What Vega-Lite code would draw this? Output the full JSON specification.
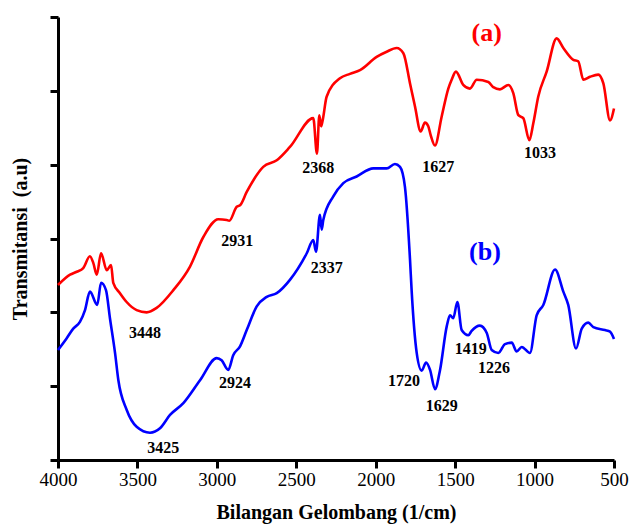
{
  "$schema": "https://vega.github.io/schema/vega-lite/v6.json",
  "autosize": {"type": "none"},
  "width": 556,
  "height": 443,
  "padding": {"left": 58, "top": 17, "right": 15, "bottom": 67},
  "background": "white",
  "config": {
    "view": {"stroke": null},
    "font": "Liberation Serif",
    "axis": {"labelFont": "Liberation Serif", "titleFont": "Liberation Serif"},
    "text": {"font": "Liberation Serif"}
  },
  "datasets": {
    "spectra": [
      {"series": "a", "wn": 4000, "t": 2.37},
      {"series": "a", "wn": 3924, "t": 2.51},
      {"series": "a", "wn": 3882, "t": 2.55},
      {"series": "a", "wn": 3841, "t": 2.6},
      {"series": "a", "wn": 3799, "t": 2.76},
      {"series": "a", "wn": 3778, "t": 2.67},
      {"series": "a", "wn": 3756, "t": 2.51},
      {"series": "a", "wn": 3729, "t": 2.8},
      {"series": "a", "wn": 3693, "t": 2.57},
      {"series": "a", "wn": 3666, "t": 2.64},
      {"series": "a", "wn": 3652, "t": 2.4},
      {"series": "a", "wn": 3610, "t": 2.26},
      {"series": "a", "wn": 3568, "t": 2.14},
      {"series": "a", "wn": 3505, "t": 2.03},
      {"series": "a", "wn": 3442, "t": 2.0},
      {"series": "a", "wn": 3379, "t": 2.06},
      {"series": "a", "wn": 3274, "t": 2.3},
      {"series": "a", "wn": 3169, "t": 2.62},
      {"series": "a", "wn": 3085, "t": 3.02},
      {"series": "a", "wn": 2991, "t": 3.26},
      {"series": "a", "wn": 2938, "t": 3.25},
      {"series": "a", "wn": 2922, "t": 3.24},
      {"series": "a", "wn": 2875, "t": 3.43},
      {"series": "a", "wn": 2854, "t": 3.45},
      {"series": "a", "wn": 2812, "t": 3.63},
      {"series": "a", "wn": 2708, "t": 3.97},
      {"series": "a", "wn": 2623, "t": 4.06},
      {"series": "a", "wn": 2540, "t": 4.24},
      {"series": "a", "wn": 2393, "t": 4.63},
      {"series": "a", "wn": 2370, "t": 4.15},
      {"series": "a", "wn": 2355, "t": 4.67},
      {"series": "a", "wn": 2344, "t": 4.52},
      {"series": "a", "wn": 2334, "t": 4.6},
      {"series": "a", "wn": 2309, "t": 4.92},
      {"series": "a", "wn": 2225, "t": 5.17},
      {"series": "a", "wn": 2162, "t": 5.23},
      {"series": "a", "wn": 2099, "t": 5.28},
      {"series": "a", "wn": 1994, "t": 5.46},
      {"series": "a", "wn": 1931, "t": 5.53},
      {"series": "a", "wn": 1868, "t": 5.58},
      {"series": "a", "wn": 1826, "t": 5.51},
      {"series": "a", "wn": 1784, "t": 5.1},
      {"series": "a", "wn": 1753, "t": 4.79},
      {"series": "a", "wn": 1717, "t": 4.45},
      {"series": "a", "wn": 1690, "t": 4.57},
      {"series": "a", "wn": 1669, "t": 4.52},
      {"series": "a", "wn": 1654, "t": 4.4},
      {"series": "a", "wn": 1627, "t": 4.26},
      {"series": "a", "wn": 1585, "t": 4.65},
      {"series": "a", "wn": 1543, "t": 5.03},
      {"series": "a", "wn": 1522, "t": 5.15},
      {"series": "a", "wn": 1495, "t": 5.26},
      {"series": "a", "wn": 1449, "t": 5.08},
      {"series": "a", "wn": 1407, "t": 5.03},
      {"series": "a", "wn": 1364, "t": 5.15},
      {"series": "a", "wn": 1291, "t": 5.12},
      {"series": "a", "wn": 1260, "t": 5.05},
      {"series": "a", "wn": 1218, "t": 5.02},
      {"series": "a", "wn": 1165, "t": 5.08},
      {"series": "a", "wn": 1134, "t": 4.97},
      {"series": "a", "wn": 1102, "t": 4.67},
      {"series": "a", "wn": 1071, "t": 4.63},
      {"series": "a", "wn": 1033, "t": 4.33},
      {"series": "a", "wn": 1008, "t": 4.56},
      {"series": "a", "wn": 977, "t": 4.92},
      {"series": "a", "wn": 924, "t": 5.26},
      {"series": "a", "wn": 861, "t": 5.71},
      {"series": "a", "wn": 819, "t": 5.58},
      {"series": "a", "wn": 756, "t": 5.42},
      {"series": "a", "wn": 725, "t": 5.4},
      {"series": "a", "wn": 693, "t": 5.15},
      {"series": "a", "wn": 651, "t": 5.19},
      {"series": "a", "wn": 599, "t": 5.22},
      {"series": "a", "wn": 567, "t": 5.1},
      {"series": "a", "wn": 525, "t": 4.6},
      {"series": "a", "wn": 500, "t": 4.76},
      {"series": "b", "wn": 4000, "t": 1.49},
      {"series": "b", "wn": 3945, "t": 1.65},
      {"series": "b", "wn": 3904, "t": 1.78},
      {"series": "b", "wn": 3862, "t": 1.87},
      {"series": "b", "wn": 3830, "t": 2.03},
      {"series": "b", "wn": 3799, "t": 2.28},
      {"series": "b", "wn": 3753, "t": 2.1},
      {"series": "b", "wn": 3729, "t": 2.4},
      {"series": "b", "wn": 3698, "t": 2.3},
      {"series": "b", "wn": 3673, "t": 1.92},
      {"series": "b", "wn": 3641, "t": 1.45},
      {"series": "b", "wn": 3620, "t": 1.08},
      {"series": "b", "wn": 3568, "t": 0.68},
      {"series": "b", "wn": 3505, "t": 0.45},
      {"series": "b", "wn": 3421, "t": 0.37},
      {"series": "b", "wn": 3358, "t": 0.43},
      {"series": "b", "wn": 3295, "t": 0.61},
      {"series": "b", "wn": 3211, "t": 0.77},
      {"series": "b", "wn": 3106, "t": 1.08},
      {"series": "b", "wn": 3001, "t": 1.38},
      {"series": "b", "wn": 2970, "t": 1.35},
      {"series": "b", "wn": 2928, "t": 1.22},
      {"series": "b", "wn": 2897, "t": 1.42},
      {"series": "b", "wn": 2854, "t": 1.54},
      {"series": "b", "wn": 2812, "t": 1.76},
      {"series": "b", "wn": 2749, "t": 2.08},
      {"series": "b", "wn": 2686, "t": 2.21},
      {"series": "b", "wn": 2623, "t": 2.26},
      {"series": "b", "wn": 2540, "t": 2.44},
      {"series": "b", "wn": 2434, "t": 2.8},
      {"series": "b", "wn": 2393, "t": 2.98},
      {"series": "b", "wn": 2376, "t": 2.82},
      {"series": "b", "wn": 2351, "t": 3.32},
      {"series": "b", "wn": 2340, "t": 3.12},
      {"series": "b", "wn": 2330, "t": 3.25},
      {"series": "b", "wn": 2267, "t": 3.57},
      {"series": "b", "wn": 2204, "t": 3.75},
      {"series": "b", "wn": 2120, "t": 3.84},
      {"series": "b", "wn": 2015, "t": 3.95},
      {"series": "b", "wn": 1931, "t": 3.95},
      {"series": "b", "wn": 1879, "t": 4.01},
      {"series": "b", "wn": 1847, "t": 3.97},
      {"series": "b", "wn": 1816, "t": 3.7},
      {"series": "b", "wn": 1784, "t": 2.71},
      {"series": "b", "wn": 1774, "t": 2.3},
      {"series": "b", "wn": 1742, "t": 1.45},
      {"series": "b", "wn": 1711, "t": 1.21},
      {"series": "b", "wn": 1683, "t": 1.32},
      {"series": "b", "wn": 1658, "t": 1.22},
      {"series": "b", "wn": 1627, "t": 0.96},
      {"series": "b", "wn": 1595, "t": 1.22},
      {"series": "b", "wn": 1553, "t": 1.81},
      {"series": "b", "wn": 1532, "t": 1.96},
      {"series": "b", "wn": 1512, "t": 1.92},
      {"series": "b", "wn": 1486, "t": 2.14},
      {"series": "b", "wn": 1459, "t": 1.76},
      {"series": "b", "wn": 1417, "t": 1.69},
      {"series": "b", "wn": 1396, "t": 1.75},
      {"series": "b", "wn": 1344, "t": 1.82},
      {"series": "b", "wn": 1301, "t": 1.72},
      {"series": "b", "wn": 1270, "t": 1.49},
      {"series": "b", "wn": 1228, "t": 1.45},
      {"series": "b", "wn": 1186, "t": 1.57},
      {"series": "b", "wn": 1144, "t": 1.59},
      {"series": "b", "wn": 1113, "t": 1.47},
      {"series": "b", "wn": 1081, "t": 1.53},
      {"series": "b", "wn": 1029, "t": 1.45},
      {"series": "b", "wn": 987, "t": 1.96},
      {"series": "b", "wn": 945, "t": 2.1},
      {"series": "b", "wn": 871, "t": 2.58},
      {"series": "b", "wn": 819, "t": 2.28},
      {"series": "b", "wn": 788, "t": 2.1},
      {"series": "b", "wn": 739, "t": 1.51},
      {"series": "b", "wn": 703, "t": 1.78},
      {"series": "b", "wn": 662, "t": 1.86},
      {"series": "b", "wn": 630, "t": 1.8},
      {"series": "b", "wn": 557, "t": 1.76},
      {"series": "b", "wn": 525, "t": 1.74},
      {"series": "b", "wn": 500, "t": 1.64}
    ],
    "peaks": [
      {"label": "3448", "wn": 3452, "t": 1.72},
      {"label": "2931", "wn": 2871, "t": 2.96},
      {"label": "2368", "wn": 2361, "t": 3.95},
      {"label": "1627", "wn": 1606, "t": 3.97},
      {"label": "1033", "wn": 966, "t": 4.16},
      {"label": "3425", "wn": 3337, "t": 0.16},
      {"label": "2924", "wn": 2886, "t": 1.04},
      {"label": "2337", "wn": 2308, "t": 2.6},
      {"label": "1720", "wn": 1822, "t": 1.07},
      {"label": "1629", "wn": 1585, "t": 0.73},
      {"label": "1419", "wn": 1402, "t": 1.51},
      {"label": "1226", "wn": 1255, "t": 1.25}
    ],
    "names": [
      {"series": "a", "label": "(a)", "wn": 1301, "t": 5.78},
      {"series": "b", "label": "(b)", "wn": 1312, "t": 2.82}
    ]
  },
  "layer": [
    {
      "data": {"name": "spectra"},
      "mark": {"type": "line", "strokeWidth": 2.6, "interpolate": "monotone"},
      "encoding": {
        "x": {
          "field": "wn",
          "type": "quantitative",
          "scale": {"domain": [500, 4000], "reverse": true, "nice": false, "zero": false},
          "axis": {
            "title": "Bilangan Gelombang (1/cm)",
            "values": [4000, 3500, 3000, 2500, 2000, 1500, 1000, 500],
            "format": "d",
            "grid": false,
            "domainColor": "black",
            "domainWidth": 3,
            "tickColor": "black",
            "tickWidth": 3,
            "tickSize": 8,
            "labelFont": "Liberation Serif",
            "labelFontSize": 19,
            "labelColor": "black",
            "labelPadding": 2,
            "labelFlush": false,
            "titleFont": "Liberation Serif",
            "titleFontSize": 20,
            "titleFontWeight": "bold",
            "titleColor": "black",
            "titlePadding": 13
          }
        },
        "y": {
          "field": "t",
          "type": "quantitative",
          "scale": {"domain": [0, 6], "nice": false, "zero": false},
          "axis": {
            "title": "Transmitansi\u00a0 (a.u)",
            "values": [0, 1, 2, 3, 4, 5, 6],
            "labels": false,
            "grid": false,
            "domainColor": "black",
            "domainWidth": 3,
            "tickColor": "black",
            "tickWidth": 3,
            "tickSize": 8,
            "titleFont": "Liberation Serif",
            "titleFontSize": 20,
            "titleFontWeight": "bold",
            "titleColor": "black",
            "titlePadding": 18
          }
        },
        "color": {
          "field": "series",
          "type": "nominal",
          "scale": {"domain": ["a", "b"], "range": ["#ff0000", "#0000ff"]},
          "legend": null
        }
      }
    },
    {
      "data": {"name": "peaks"},
      "mark": {"type": "text", "font": "Liberation Serif", "fontWeight": "bold", "fontSize": 16, "color": "black", "align": "center", "baseline": "middle"},
      "encoding": {
        "x": {"field": "wn", "type": "quantitative"},
        "y": {"field": "t", "type": "quantitative"},
        "text": {"field": "label"}
      }
    },
    {
      "data": {"name": "names"},
      "mark": {"type": "text", "font": "Liberation Serif", "fontWeight": "bold", "fontSize": 26, "align": "center", "baseline": "middle"},
      "encoding": {
        "x": {"field": "wn", "type": "quantitative"},
        "y": {"field": "t", "type": "quantitative"},
        "text": {"field": "label"},
        "color": {"field": "series", "type": "nominal", "legend": null}
      }
    }
  ]
}
